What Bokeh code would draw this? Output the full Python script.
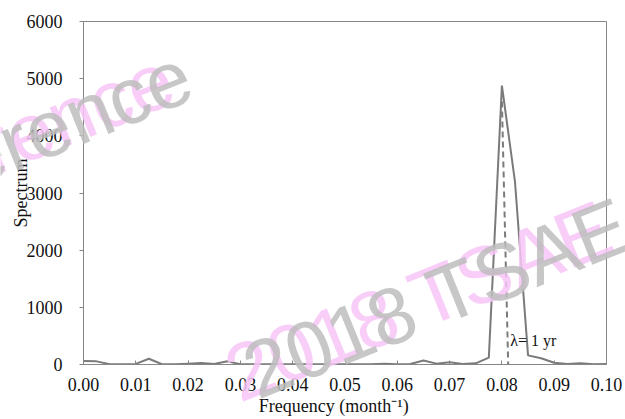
from bokeh.plotting import figure
from bokeh.models import Range1d, FixedTicker, NumeralTickFormatter, Label
from bokeh.core.properties import value
from bokeh.embed import file_html
from bokeh.resources import INLINE

# ---- data ----
freq = [0.0000, 0.0025, 0.0050, 0.0075, 0.0100, 0.0125, 0.0150, 0.0175, 0.0200, 0.0225,
        0.0250, 0.0275, 0.0300, 0.0325, 0.0350, 0.0375, 0.0400, 0.0425, 0.0450, 0.0475,
        0.0500, 0.0525, 0.0550, 0.0575, 0.0600, 0.0625, 0.0650, 0.0675, 0.0700, 0.0725,
        0.0750, 0.0775, 0.0800, 0.0825, 0.0850, 0.0875, 0.0900, 0.0925, 0.0950, 0.0975,
        0.1000]
spectrum = [60, 55, 5, 5, 10, 100, 5, 5, 15, 25,
            10, 55, 5, 5, 3, 3, 3, 3, 3, 3,
            3, 3, 5, 15, 5, 10, 70, 15, 40, 10,
            20, 120, 4880, 3200, 160, 110, 30, 10, 20, 5,
            10]

# hand-drawn marker of the annual period (slightly slanted in the source)
annual_freq = [0.0800, 0.0812]
annual_span = [4600, 0]
annual_label = "λ= 1 yr"
annual_label_pos = (0.0816, 420)

x_ticks = [0.00, 0.01, 0.02, 0.03, 0.04, 0.05, 0.06, 0.07, 0.08, 0.09, 0.10]
y_ticks = [0, 1000, 2000, 3000, 4000, 5000, 6000]

# watermark overlay texts (pixel positions of the page)
wm_text = ["Reference", "2018 TSAE", "Reference", "2018 TSAE"]
wm_x = [-173, 229, -155, 247]
wm_y = [213, 377, 210, 374]
wm_color = ["#f7c6f7", "#f7c6f7", "#bdbdbd", "#bdbdbd"]

SERIF = "Liberation Serif"
AXIS_GRAY = "#868686"
TXT = "#111111"

W, H = 625, 419

p = figure(width=W, height=H,
           x_range=Range1d(0, 0.1), y_range=Range1d(0, 6000),
           output_backend="svg", toolbar_location=None,
           min_border_left=83, min_border_right=19,
           min_border_top=21, min_border_bottom=55)

p.background_fill_color = "white"
p.border_fill_color = "white"
p.outline_line_color = AXIS_GRAY
p.outline_line_width = 1
p.xgrid.visible = False
p.ygrid.visible = False

p.line(freq, spectrum, line_color="#7a7a7a", line_width=2)
p.line(annual_freq, annual_span, line_color="#7a7a7a", line_width=2, line_dash="6 4")

p.add_layout(Label(x=annual_label_pos[0], y=annual_label_pos[1], text=annual_label,
                   text_font=SERIF, text_font_size="16px", text_color=TXT,
                   text_baseline="middle", text_align="left"))

# x axis
xa = p.xaxis[0]
xa.ticker = FixedTicker(ticks=x_ticks)
xa.formatter = NumeralTickFormatter(format="0.00")
xa.axis_label = "Frequency (month\u207b\u00b9)" + "\u00a0" * 5
xa.major_tick_in = 4
xa.major_tick_out = 0
xa.minor_tick_line_color = None
xa.axis_line_color = AXIS_GRAY
xa.major_tick_line_color = AXIS_GRAY
xa.major_label_text_font = SERIF
xa.major_label_text_font_size = "18px"
xa.major_label_text_color = TXT
xa.major_label_standoff = 13
xa.axis_label_text_font = SERIF
xa.axis_label_text_font_size = "18px"
xa.axis_label_text_font_style = "normal"
xa.axis_label_text_color = TXT
xa.axis_label_standoff = 2

# y axis
ya = p.yaxis[0]
ya.ticker = FixedTicker(ticks=y_ticks)
ya.formatter = NumeralTickFormatter(format="0")
ya.axis_label = "Spectrum"
ya.major_tick_in = 0
ya.major_tick_out = 4
ya.minor_tick_line_color = None
ya.axis_line_color = AXIS_GRAY
ya.major_tick_line_color = AXIS_GRAY
ya.major_label_text_font = SERIF
ya.major_label_text_font_size = "18px"
ya.major_label_text_color = TXT
ya.major_label_standoff = 17
ya.axis_label_text_font = SERIF
ya.axis_label_text_font_size = "18px"
ya.axis_label_text_font_style = "normal"
ya.axis_label_text_color = TXT
ya.axis_label_standoff = -7

# transparent overlay carrying the watermark (not clipped to the plot frame)
wm = figure(width=W, height=H, x_range=Range1d(0, W), y_range=Range1d(H, 0),
            output_backend="svg", toolbar_location=None, min_border=0,
            x_axis_type=None, y_axis_type=None)
wm.grid.visible = False
wm.outline_line_color = None
wm.background_fill_alpha = 0
wm.border_fill_alpha = 0
wm.styles = {"position": "absolute", "top": "0px", "left": "0px", "z-index": "2",
             "pointer-events": "none"}
wm.text(x=wm_x, y=wm_y, text=wm_text, color=wm_color, alpha=0.85,
        angle=22, angle_units="deg",
        text_font=value("Liberation Sans"), text_font_size="80px",
        text_baseline="alphabetic", text_align="left")

open("out.html", "w").write(file_html([p, wm], INLINE))
